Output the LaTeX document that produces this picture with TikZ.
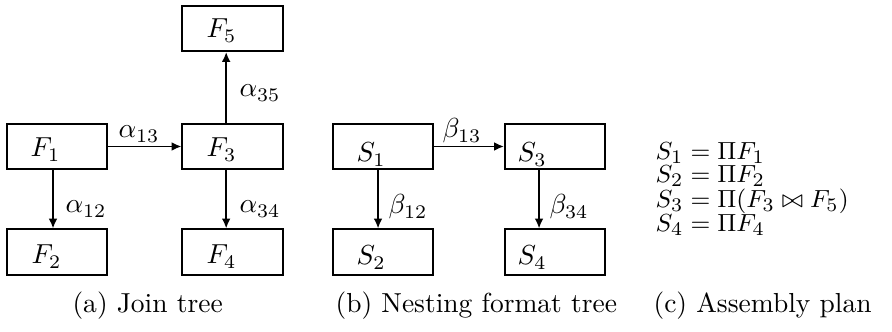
\documentclass[tikz,border=0pt]{standalone}
\usetikzlibrary{arrows.meta}
\begin{document}
\begin{tikzpicture}[x=0.3636pt,y=-0.3636pt,
  box/.style={draw,line width=0.7pt,minimum width=36.4pt,minimum height=16.4pt,inner sep=0pt},
  lbl/.style={anchor=base west,inner sep=0pt},
  eqn/.style={lbl,font=\fontsize{9.5}{11}\selectfont},
  arr/.style={line width=0.65pt,-{Latex[length=3.6pt,width=3.2pt]}}]
\useasboundingbox (0,0) rectangle (892,332);

% (a) join tree
\node[box] (F1) at (57,146.5) {};
\node[box] (F2) at (57,252) {};
\node[box] (F3) at (232.5,146.5) {};
\node[box] (F4) at (232.5,252) {};
\node[box] (F5) at (232.5,28.5) {};
\node[lbl] (tF1) at (30,157) {$F_1$};
\node[lbl] (tF2) at (31,264) {$F_2$};
\node[lbl] (tF3) at (206,157) {$F_3$};
\node[lbl] (tF4) at (206,264) {$F_4$};
\node[lbl] (tF5) at (206,38) {$F_5$};

\draw[arr] ([xshift=-1.45pt]F1.south) -- ([xshift=-1.45pt]F2.north);
\draw[arr] (F1.east) -- (F3.west);
\draw[arr] ([xshift=-2.3pt]F3.south) -- ([xshift=-2.3pt]F4.north);
\draw[arr] ([xshift=-2.3pt]F3.north) -- ([xshift=-2.3pt]F5.south);

\node[lbl] (a13) at (118,138) {$\alpha_{13}$};
\node[lbl] (a12) at (65,213) {$\alpha_{12}$};
\node[lbl] (a35) at (239,97) {$\alpha_{35}$};
\node[lbl] (a34) at (239,213) {$\alpha_{34}$};

% (b) nesting format tree
\node[box] (S1) at (383,146.5) {};
\node[box] (S2) at (383,252) {};
\node[box] (S3) at (555,146.5) {};
\node[box] (S4) at (555,252) {};
\node[lbl] (tS1) at (356,162) {$S_1$};
\node[lbl] (tS2) at (356,265) {$S_2$};
\node[lbl] (tS3) at (517,162) {$S_3$};
\node[lbl] (tS4) at (517,265) {$S_4$};

\draw[arr] ([xshift=-1.8pt]S1.south) -- ([xshift=-1.8pt]S2.north);
\draw[arr] (S1.east) -- (S3.west);
\draw[arr] ([xshift=-5.8pt]S3.south) -- ([xshift=-5.8pt]S4.north);

\node[lbl] (b13) at (442,138) {$\beta_{13}$};
\node[lbl] (b12) at (388,214) {$\beta_{12}$};
\node[lbl] (b34) at (549,214) {$\beta_{34}$};

% (c) assembly plan
\node[eqn] (e1) at (655,160) {$S_1 = \Pi F_1$};
\node[eqn] (e2) at (655,183) {$S_2 = \Pi F_2$};
\node[eqn] (e3) at (655,208) {$S_3 = \Pi(F_3 \bowtie F_5)$};
\node[eqn] (e4) at (655,232) {$S_4 = \Pi F_4$};

% captions
\node[lbl] (capa) at (72,313) {(a) Join tree};
\node[lbl] (capb) at (335,313) {(b) Nesting format tree};
\node[lbl] (capc) at (653,313) {(c) Assembly plan};
\end{tikzpicture}
\end{document}
